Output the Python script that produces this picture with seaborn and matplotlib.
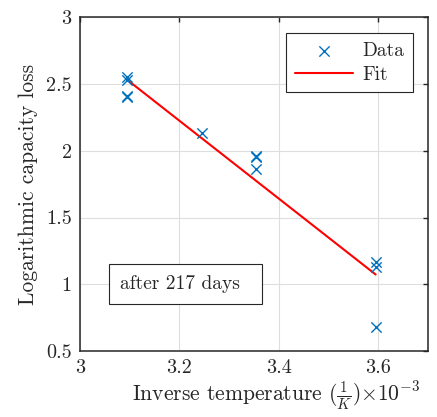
import numpy as np
import pandas as pd
import matplotlib
matplotlib.use("Agg")
import matplotlib.pyplot as plt
import matplotlib.patches as mpatches
import seaborn as sns

# Data (inverse temperature in 1e-3 /K, logarithmic capacity loss)
inv_temp = [3.0945, 3.0945, 3.0945, 3.0945, 3.245, 3.354, 3.354, 3.354, 3.595, 3.595, 3.595]
log_loss = [2.55, 2.53, 2.41, 2.40, 2.13, 1.96, 1.95, 1.86, 1.17, 1.13, 0.68]
annotation = "after 217 days"
xticks = [3.0, 3.2, 3.4, 3.6]
yticks = [0.5, 1.0, 1.5, 2.0, 2.5, 3.0]

sns.set_theme(style="whitegrid")
plt.rcParams["font.family"] = ["cmr10", "DejaVu Serif"]
plt.rcParams["mathtext.fontset"] = "cm"
plt.rcParams["axes.unicode_minus"] = False
plt.rcParams["axes.formatter.use_mathtext"] = True

df = pd.DataFrame({"x": inv_temp, "y": log_loss})
coef = np.polyfit(df["x"], df["y"], 1)
fx = np.array([min(inv_temp), max(inv_temp)])
fit = pd.DataFrame({"x": fx, "y": np.polyval(coef, fx)})

fig = plt.figure(figsize=(4.37, 4.17), dpi=100)
ax = fig.add_axes([0.183, 0.158, 0.796, 0.801])

sns.scatterplot(data=df, x="x", y="y", ax=ax, marker="x", s=55, color="#0072BD",
                linewidth=1.0, label="Data", zorder=3)
sns.lineplot(data=fit, x="x", y="y", ax=ax, color="#FF0000", linewidth=1.5, label="Fit", zorder=2)

ax.set_xlim(3.0, 3.7)
ax.set_ylim(0.5, 3.0)
ax.set_xticks(xticks)
ax.set_yticks(yticks)
ax.set_xticklabels([f"{t:g}" for t in xticks])
ax.set_yticklabels([f"{t:g}" for t in yticks])
ax.tick_params(axis="both", which="both", direction="in", length=3.5, width=1,
               labelsize=14.5, colors="#262626", top=True, right=True, pad=6)
ax.grid(True, color="#dedede", linewidth=0.8)
for s in ax.spines.values():
    s.set_edgecolor("#262626")
    s.set_linewidth(1.1)
ax.set_facecolor("white")

ax.set_xlabel(r"Inverse temperature $(\frac{1}{K})$$\times10^{-3}$", fontsize=15.5, color="#262626")
ax.xaxis.set_label_coords(0.565, -0.085)
ax.set_ylabel("Logarithmic capacity loss", fontsize=15.5, color="#262626", labelpad=6)

leg = ax.legend(loc="upper right", bbox_to_anchor=(0.957, 0.952), borderaxespad=0,
                fontsize=14, frameon=True, fancybox=False, edgecolor="#262626", framealpha=1,
                borderpad=0.45, handlelength=3.0, handletextpad=0.45, labelspacing=0.3)
leg.get_frame().set_linewidth(0.8)

ax.add_patch(mpatches.Rectangle((3.0585, 0.852), 0.3085, 0.299, facecolor="white",
                                edgecolor="#262626", linewidth=0.8, zorder=4))
ax.text(3.081, 1.0, annotation, fontsize=14, ha="left", va="center", color="#262626", zorder=5)

fig.savefig("out.png", dpi=100, facecolor="white")
